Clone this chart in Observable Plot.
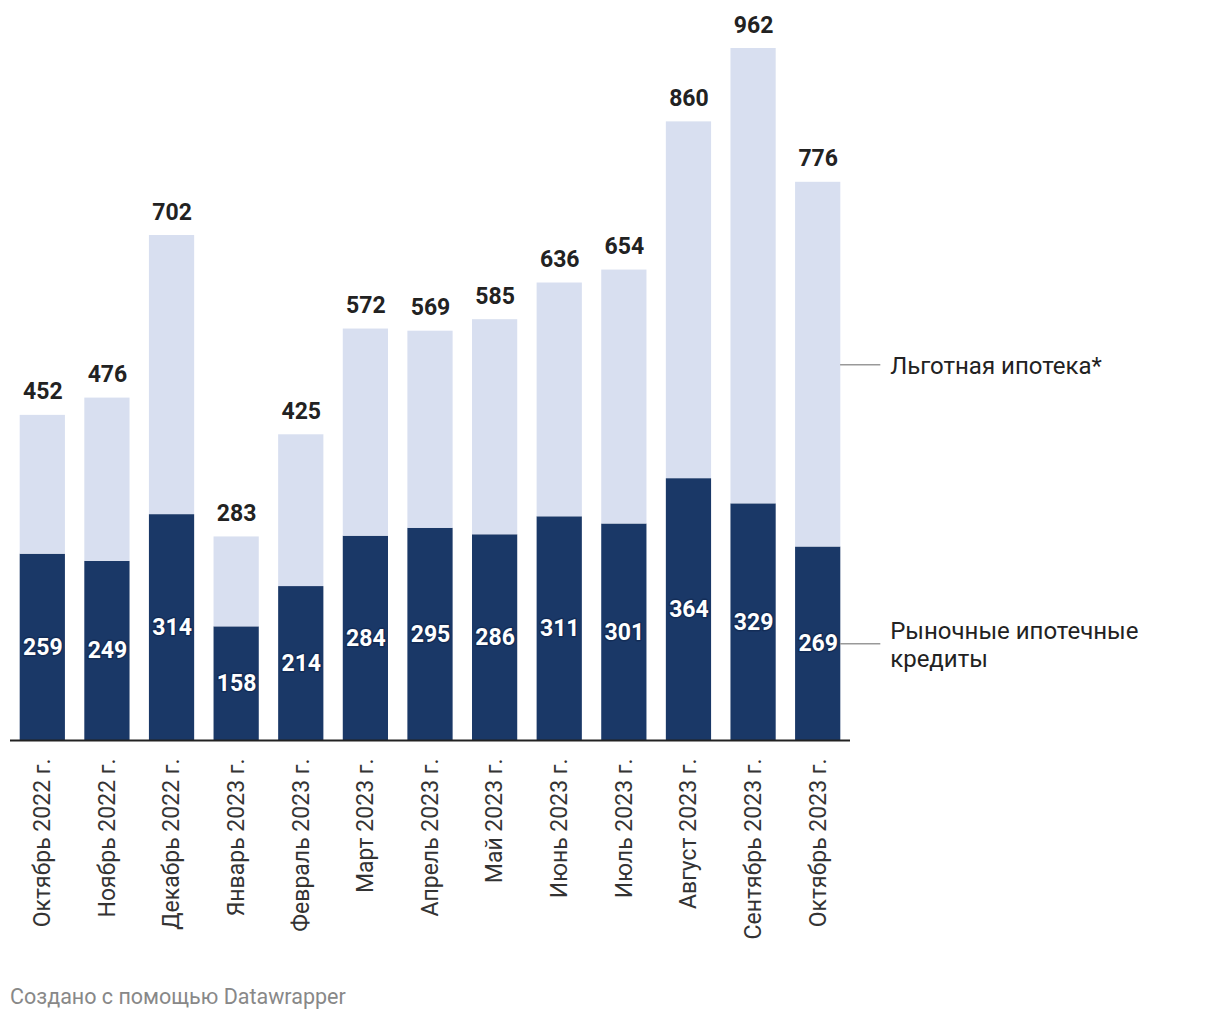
<!DOCTYPE html>
<html>
<head>
<meta charset="utf-8">
<script src="https://cdn.jsdelivr.net/npm/d3@7"></script>
<script src="https://cdn.jsdelivr.net/npm/@observablehq/plot@0.6"></script>
<style>
  html, body { margin: 0; padding: 0; background: #fff; }
  body { width: 1220px; height: 1020px; position: relative; font-family: Roboto, "Noto Sans", sans-serif; }
  #chart { position: absolute; left: 0; top: 0; }
  #footer { position: absolute; left: 10px; top: 984px; font-size: 21.5px; color: #888; font-family: Roboto, sans-serif; }
</style>
</head>
<body>
<div id="chart"></div>
<div id="footer">Создано с помощью Datawrapper</div>
<script>
const months = ["Октябрь 2022 г.", "Ноябрь 2022 г.", "Декабрь 2022 г.", "Январь 2023 г.", "Февраль 2023 г.", "Март 2023 г.", "Апрель 2023 г.", "Май 2023 г.", "Июнь 2023 г.", "Июль 2023 г.", "Август 2023 г.", "Сентябрь 2023 г.", "Октябрь 2023 г."];
const market = [259, 249, 314, 158, 214, 284, 295, 286, 311, 301, 364, 329, 269];
const preferential = [193, 227, 388, 125, 211, 288, 274, 299, 325, 353, 496, 633, 507];
const totals = [452, 476, 702, 283, 425, 572, 569, 585, 636, 654, 860, 962, 776];
const seriesNames = ["Рыночные ипотечные кредиты", "Льготная ипотека*"];
const seriesLabels = ["Рыночные ипотечные\nкредиты", "Льготная ипотека*"];
const seriesColors = ["#1a3867", "#d8dff0"];

const long = [];
months.forEach((m, i) => {
  long.push({month: m, series: seriesNames[0], label: seriesLabels[0], value: market[i]});
  long.push({month: m, series: seriesNames[1], label: seriesLabels[1], value: preferential[i]});
});
const marketData = long.filter(d => d.series === seriesNames[0]);
const lastMonth = months[months.length - 1];
const lastData = long.filter(d => d.month === lastMonth);
const totalData = months.map((m, i) => ({month: m, total: totals[i]}));

const chart = Plot.plot({
  width: 1220,
  height: 940,
  marginLeft: 10,
  marginRight: 370,
  marginTop: 48,
  marginBottom: 200,
  style: {fontFamily: "Roboto, sans-serif", background: "#fff"},
  x: {domain: months, paddingInner: 0.3, paddingOuter: 0.15, round: false, label: null},
  y: {domain: [0, 962], axis: null},
  color: {domain: seriesNames, range: seriesColors},
  marks: [
    Plot.barY(long, {x: "month", y: "value", fill: "series"}),
    Plot.ruleY([0], {stroke: "#222", strokeWidth: 2}),
    Plot.axisX({tickRotate: -90, tickSize: 0, tickPadding: 18, fontSize: 23, fill: "#333", label: null}),
    Plot.text(totalData, {x: "month", y: "total", text: d => String(d.total), lineAnchor: "bottom", dy: -16, fontSize: 23, fontWeight: 700, fill: "#222"}),
    Plot.text(marketData, Plot.stackY({x: "month", y: "value", text: d => String(d.value), fontSize: 23, fontWeight: 700, fill: "#fff", stroke: "#0d2247", strokeWidth: 3, strokeOpacity: 0.5, paintOrder: "stroke"})),
    Plot.tickY(lastData, Plot.stackY({x: "month", y: "value", dx: 40, insetLeft: 5, stroke: "#999", strokeWidth: 1.5})),
    Plot.text(lastData, Plot.stackY({x: "month", y: "value", text: "label", dx: 72, textAnchor: "start", fontSize: 24, fill: "#222", lineHeight: 1.2}))
  ]
});
document.getElementById("chart").appendChild(chart);
</script>
</body>
</html>
